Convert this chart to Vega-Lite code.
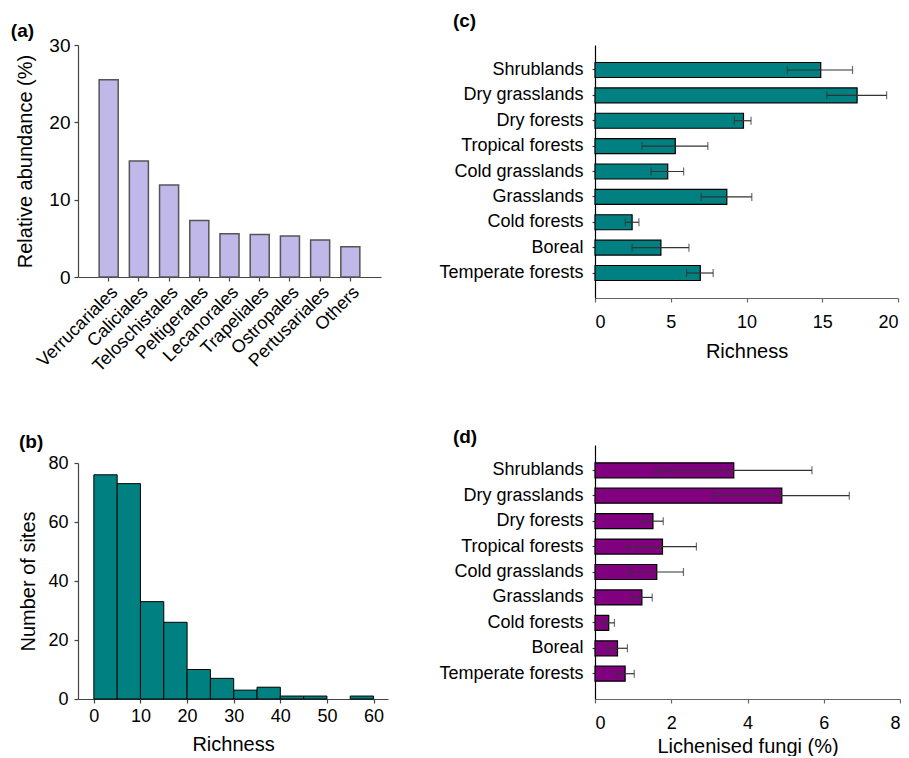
{
  "$schema": "https://vega.github.io/schema/vega-lite/v6.json",
  "padding": {"left": 10, "top": 12, "right": 0, "bottom": 0},
  "background": "white",
  "datasets": {
    "orders": [
      {"order": "Verrucariales", "abundance": 25.5},
      {"order": "Caliciales", "abundance": 15.0},
      {"order": "Teloschistales", "abundance": 11.9},
      {"order": "Peltigerales", "abundance": 7.3},
      {"order": "Lecanorales", "abundance": 5.6},
      {"order": "Trapeliales", "abundance": 5.5},
      {"order": "Ostropales", "abundance": 5.3},
      {"order": "Pertusariales", "abundance": 4.8},
      {"order": "Others", "abundance": 3.9}
    ],
    "hist": [
      {"lo": 0, "hi": 5, "sites": 76},
      {"lo": 5, "hi": 10, "sites": 73},
      {"lo": 10, "hi": 15, "sites": 33},
      {"lo": 15, "hi": 20, "sites": 26},
      {"lo": 20, "hi": 25, "sites": 10},
      {"lo": 25, "hi": 30, "sites": 7},
      {"lo": 30, "hi": 35, "sites": 3},
      {"lo": 35, "hi": 40, "sites": 4},
      {"lo": 40, "hi": 45, "sites": 1},
      {"lo": 45, "hi": 50, "sites": 1},
      {"lo": 55, "hi": 60, "sites": 1}
    ],
    "richness": [
      {"biome": "Shrublands", "mean": 14.9, "lo": 12.7, "hi": 17.0},
      {"biome": "Dry grasslands", "mean": 17.3, "lo": 15.3, "hi": 19.25},
      {"biome": "Dry forests", "mean": 9.8, "lo": 9.2, "hi": 10.3},
      {"biome": "Tropical forests", "mean": 5.3, "lo": 3.1, "hi": 7.45},
      {"biome": "Cold grasslands", "mean": 4.8, "lo": 3.7, "hi": 5.85},
      {"biome": "Grasslands", "mean": 8.7, "lo": 7.0, "hi": 10.35},
      {"biome": "Cold forests", "mean": 2.45, "lo": 2.0, "hi": 2.9},
      {"biome": "Boreal", "mean": 4.35, "lo": 2.45, "hi": 6.2},
      {"biome": "Temperate forests", "mean": 6.95, "lo": 6.05, "hi": 7.8}
    ],
    "lichen": [
      {"biome": "Shrublands", "mean": 3.64, "lo": 1.6, "hi": 5.69},
      {"biome": "Dry grasslands", "mean": 4.9, "lo": 3.09, "hi": 6.67},
      {"biome": "Dry forests", "mean": 1.52, "lo": 1.24, "hi": 1.79},
      {"biome": "Tropical forests", "mean": 1.77, "lo": 0.86, "hi": 2.66},
      {"biome": "Cold grasslands", "mean": 1.62, "lo": 0.91, "hi": 2.32},
      {"biome": "Grasslands", "mean": 1.23, "lo": 0.96, "hi": 1.5},
      {"biome": "Cold forests", "mean": 0.36, "lo": 0.2, "hi": 0.51},
      {"biome": "Boreal", "mean": 0.59, "lo": 0.33, "hi": 0.85},
      {"biome": "Temperate forests", "mean": 0.79, "lo": 0.55, "hi": 1.03}
    ]
  },
  "spacing": 50,
  "hconcat": [
    {
      "spacing": 58,
      "vconcat": [
        {
          "title": {"text": "(a)", "dx": -5, "offset": -5},
          "width": 303,
          "height": 232,
          "data": {"name": "orders"},
          "mark": {"type": "bar", "fill": "#C0B8E8", "stroke": "#555555", "strokeWidth": 1.5},
          "encoding": {
            "x": {
              "field": "order", "type": "nominal", "sort": null,
              "scale": {"paddingInner": 0.37, "paddingOuter": 0.7},
              "axis": {"title": null, "labelAngle": -45, "labelFontSize": 18, "tickSize": 4, "labelPadding": 2}
            },
            "y": {
              "field": "abundance", "type": "quantitative",
              "scale": {"domain": [0, 30], "nice": false},
              "axis": {"values": [0, 10, 20, 30], "title": "Relative abundance (%)", "titleFontSize": 20, "labelFontSize": 19, "tickSize": 4, "labelPadding": 4, "titlePadding": 13}
            }
          }
        },
        {
          "title": {"text": "(b)", "offset": 2},
          "width": 310,
          "height": 236,
          "data": {"name": "hist"},
          "mark": {"type": "bar", "fill": "#008080", "stroke": "#000000", "strokeWidth": 1},
          "encoding": {
            "x": {
              "field": "lo", "type": "quantitative",
              "scale": {"domain": [-3.4, 63.1], "nice": false, "zero": false},
              "axis": {"values": [0, 10, 20, 30, 40, 50, 60], "title": "Richness", "titleFontSize": 20, "labelFontSize": 18, "tickSize": 4, "labelPadding": 4, "titlePadding": 9}
            },
            "x2": {"field": "hi"},
            "y": {
              "field": "sites", "type": "quantitative",
              "scale": {"domain": [0, 80], "nice": false},
              "axis": {"values": [0, 20, 40, 60, 80], "title": "Number of sites", "titleFontSize": 20, "labelFontSize": 18, "tickSize": 4, "labelPadding": 6, "titlePadding": 9}
            },
            "y2": {"datum": 0}
          }
        }
      ]
    },
    {
      "spacing": 67,
      "vconcat": [
        {
          "title": {"text": "(c)", "dx": 14, "offset": 14},
          "width": 303,
          "height": 253,
          "data": {"name": "richness"},
          "encoding": {
            "y": {
              "field": "biome", "type": "nominal", "sort": null,
              "scale": {"paddingInner": 0.41, "paddingOuter": 0.69},
              "axis": {"title": null, "labelFontSize": 18, "tickSize": 3, "labelPadding": 9, "domainColor": "#000000"}
            }
          },
          "layer": [
            {
              "mark": {"type": "bar", "fill": "#008080", "stroke": "#000000", "strokeWidth": 1.2},
              "encoding": {
                "x": {
                  "field": "mean", "type": "quantitative", "title": "Richness",
                  "scale": {"domain": [0, 20], "nice": false},
                  "axis": {"values": [0, 5, 10, 15, 20], "title": "Richness", "titleFontSize": 20, "labelFontSize": 18, "tickSize": 4, "labelPadding": 11, "titlePadding": 10, "domainColor": "#666666", "tickColor": "#666666"}
                }
              }
            },
            {
              "mark": {"type": "rule", "color": "#333333", "strokeWidth": 1.2},
              "encoding": {"x": {"field": "lo", "type": "quantitative", "title": "Richness"}, "x2": {"field": "hi"}}
            },
            {
              "mark": {"type": "tick", "color": "#333333", "size": 8, "thickness": 1.2},
              "encoding": {"x": {"field": "lo", "type": "quantitative", "title": "Richness"}}
            },
            {
              "mark": {"type": "tick", "color": "#333333", "size": 8, "thickness": 1.2},
              "encoding": {"x": {"field": "hi", "type": "quantitative", "title": "Richness"}}
            }
          ]
        },
        {
          "title": {"text": "(d)", "dx": 14, "offset": -2},
          "width": 305,
          "height": 254,
          "data": {"name": "lichen"},
          "encoding": {
            "y": {
              "field": "biome", "type": "nominal", "sort": null,
              "scale": {"paddingInner": 0.41, "paddingOuter": 0.7},
              "axis": {"title": null, "labelFontSize": 18, "tickSize": 3, "labelPadding": 9, "domainColor": "#000000"}
            }
          },
          "layer": [
            {
              "mark": {"type": "bar", "fill": "#800080", "stroke": "#000000", "strokeWidth": 1.2},
              "encoding": {
                "x": {
                  "field": "mean", "type": "quantitative", "title": "Lichenised fungi (%)",
                  "scale": {"domain": [0, 8], "nice": false},
                  "axis": {"values": [0, 2, 4, 6, 8], "title": "Lichenised fungi (%)", "titleFontSize": 20, "labelFontSize": 18, "tickSize": 4, "labelPadding": 11, "titlePadding": 4, "domainColor": "#666666", "tickColor": "#666666"}
                }
              }
            },
            {
              "mark": {"type": "rule", "color": "#333333", "strokeWidth": 1.2},
              "encoding": {"x": {"field": "lo", "type": "quantitative", "title": "Lichenised fungi (%)"}, "x2": {"field": "hi"}}
            },
            {
              "mark": {"type": "tick", "color": "#333333", "size": 8, "thickness": 1.2},
              "encoding": {"x": {"field": "lo", "type": "quantitative", "title": "Lichenised fungi (%)"}}
            },
            {
              "mark": {"type": "tick", "color": "#333333", "size": 8, "thickness": 1.2},
              "encoding": {"x": {"field": "hi", "type": "quantitative", "title": "Lichenised fungi (%)"}}
            }
          ]
        }
      ]
    }
  ],
  "config": {
    "font": "Liberation Sans",
    "view": {"stroke": null},
    "axis": {
      "grid": false,
      "domainColor": "#444444",
      "tickColor": "#444444",
      "domainWidth": 1.2,
      "tickWidth": 1.2,
      "labelColor": "#000000",
      "titleColor": "#000000",
      "labelFont": "Liberation Sans",
      "titleFont": "Liberation Sans",
      "titleFontWeight": "normal"
    },
    "title": {"font": "Liberation Sans", "fontWeight": "bold", "fontSize": 19, "anchor": "start", "color": "#000000"}
  }
}
